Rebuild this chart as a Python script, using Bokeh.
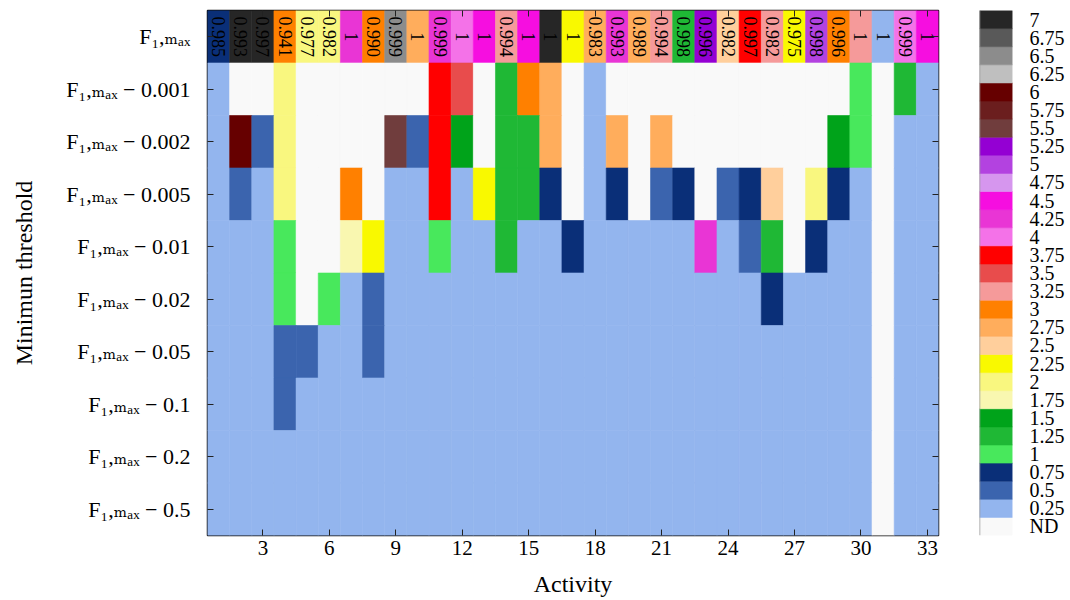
import numpy as np
from bokeh.plotting import figure
from bokeh.models import (ColumnDataSource, FactorRange, Range1d, FixedTicker,
                          LinearAxis, CategoricalAxis, CategoricalColorMapper, Span,
                          CustomLabelingPolicy)
from bokeh.layouts import row
from bokeh.embed import file_html
from bokeh.resources import INLINE
from bokeh.core.properties import value

FONT = "Liberation Serif, DejaVu Serif"

activities = list(range(1, 34))
x_ticks = [3, 6, 9, 12, 15, 18, 21, 24, 27, 30, 33]
thresholds = ["0.001", "0.002", "0.005", "0.01", "0.02", "0.05", "0.1", "0.2", "0.5"]

levels = ["ND", "0.25", "0.5", "0.75", "1", "1.25", "1.5", "1.75", "2", "2.25", "2.5",
          "2.75", "3", "3.25", "3.5", "3.75", "4", "4.25", "4.5", "4.75", "5", "5.25",
          "5.5", "5.75", "6", "6.25", "6.5", "6.75", "7"]
level_colors = ["#f9f9f9", "#93b5ee", "#3b64ae", "#0a2f78", "#48e85c", "#1fb835", "#00a31a",
                "#f9f7b0", "#f9f77f", "#f9f900", "#ffcf9c", "#ffad5c", "#ff8000", "#f59a9a",
                "#e84c4c", "#ff0000", "#f472e8", "#e935d5", "#f60ee0", "#d696ee", "#b342e0",
                "#9400d3", "#703d3d", "#6b1e1e", "#660000", "#bfbfbf", "#8c8c8c", "#595959",
                "#262626"]

# top row (F1,max): colour level and F1 value text
f1_level = [0.75, 7, 7, 3, 2, 2, 4.25, 3, 6.5, 2.75, 4.25, 4, 4.5, 3.25, 4.5, 7, 2.25,
            2.75, 4.25, 2.75, 3.25, 1.25, 5.25, 2.5, 3.75, 3.25, 2.25, 5, 3, 3.25, 0.25,
            4, 4.5]
f1_text = ["0.985", "0.993", "0.997", "0.941", "0.977", "0.982", "1", "0.990", "0.999", "1",
           "0.999", "1", "1", "0.994", "1", "1", "1", "0.983", "0.993", "0.989", "0.994",
           "0.998", "0.996", "0.982", "0.997", "0.982", "0.975", "0.998", "0.996", "1", "1",
           "0.999", "1"]

ND = "ND"
t_0001 = [0.25, ND, ND, 2, ND, ND, ND, ND, ND, ND, 3.75, 3.5, ND, 1.25, 3, 2.75, ND, 0.25,
          ND, ND, ND, ND, ND, ND, ND, ND, ND, ND, ND, 1, ND, 1.25, 0.25]
t_0002 = [0.25, 6, 0.5, 2, ND, ND, ND, ND, 5.5, 0.5, 3.75, 1.5, ND, 1.25, 1.25, 2.75, ND,
          0.25, 2.75, ND, 2.75, ND, ND, ND, ND, ND, ND, ND, 1.5, 1, ND, 0.25, 0.25]
t_0005 = [0.25, 0.5, 0.25, 2, ND, ND, 3, ND, 0.25, 0.25, 3.75, 0.25, 2.25, 1.25, 1.25, 0.75,
          ND, 0.25, 0.75, ND, 0.5, 0.75, ND, 0.5, 0.75, 2.5, ND, 2, 0.75, 0.25, ND, 0.25, 0.25]
t_001 = [0.25, 0.25, 0.25, 1, ND, ND, 1.75, 2.25, 0.25, 0.25, 1, 0.25, 0.25, 1.25, 0.25,
         0.25, 0.75, 0.25, 0.25, 0.25, 0.25, 0.25, 4.25, 0.25, 0.5, 1.25, ND, 0.75, 0.25,
         0.25, ND, 0.25, 0.25]
t_002 = [0.25, 0.25, 0.25, 1, ND, 1, 0.25, 0.5, 0.25, 0.25, 0.25, 0.25, 0.25, 0.25, 0.25,
         0.25, 0.25, 0.25, 0.25, 0.25, 0.25, 0.25, 0.25, 0.25, 0.25, 0.75, 0.25, 0.25, 0.25,
         0.25, ND, 0.25, 0.25]
t_005 = [0.25, 0.25, 0.25, 0.5, 0.5, 0.25, 0.25, 0.5, 0.25, 0.25, 0.25, 0.25, 0.25, 0.25,
         0.25, 0.25, 0.25, 0.25, 0.25, 0.25, 0.25, 0.25, 0.25, 0.25, 0.25, 0.25, 0.25, 0.25,
         0.25, 0.25, ND, 0.25, 0.25]
t_01 = [0.25, 0.25, 0.25, 0.5, 0.25, 0.25, 0.25, 0.25, 0.25, 0.25, 0.25, 0.25, 0.25, 0.25,
        0.25, 0.25, 0.25, 0.25, 0.25, 0.25, 0.25, 0.25, 0.25, 0.25, 0.25, 0.25, 0.25, 0.25,
        0.25, 0.25, ND, 0.25, 0.25]
t_02 = [0.25] * 30 + [ND, 0.25, 0.25]
t_05 = [0.25] * 30 + [ND, 0.25, 0.25]
grid = [t_0001, t_0002, t_0005, t_001, t_002, t_005, t_01, t_02, t_05]


def fmt(v):
    return v if isinstance(v, str) else "%g" % v


F = "F\u2081,\u2098\u2090\u2093"
row_labels = [F] + [F + " \u2212 " + t for t in thresholds]
y_factors = row_labels[::-1]

xs, ys, lv = [], [], []
for a, v in zip(activities, f1_level):
    xs.append(a); ys.append(row_labels[0]); lv.append(fmt(v))
for lab, vals in zip(row_labels[1:], grid):
    for a, v in zip(activities, vals):
        xs.append(a); ys.append(lab); lv.append(fmt(v))

src = ColumnDataSource(dict(x=xs, y=ys, lvl=lv))
mapper = CategoricalColorMapper(factors=levels, palette=level_colors)

p = figure(width=959, height=600, x_range=Range1d(0.5, 33.5),
           y_range=FactorRange(factors=y_factors), output_backend="svg",
           toolbar_location=None, x_axis_label="Activity", y_axis_label="Minimun threshold",
           min_border_left=207, min_border_right=21, min_border_top=10, min_border_bottom=65)
p.rect(x="x", y="y", width=1, height=1, source=src,
       fill_color={"field": "lvl", "transform": mapper},
       line_color={"field": "lvl", "transform": mapper}, line_width=0.6)
p.text(x=activities, y=[row_labels[0]] * len(activities), text=f1_text, angle=-np.pi / 2,
       text_align="center", text_baseline="middle", text_font=value(FONT),
       text_font_size="18px", text_color="black")

p.grid.grid_line_color = None
p.outline_line_color = "#111111"
p.outline_line_width = 1.5

xa = p.below[0]
xa.ticker = FixedTicker(ticks=x_ticks)
ya = p.left[0]
for ax in (xa, ya):
    ax.axis_line_color = None
    ax.major_tick_in = 6
    ax.major_tick_out = 0
    ax.minor_tick_line_color = None
    ax.major_tick_line_color = "#222222"
    ax.major_label_text_font = FONT
    ax.major_label_text_font_size = "21px"
    ax.major_label_text_color = "black"
    ax.axis_label_text_font = FONT
    ax.axis_label_text_font_size = "24px"
    ax.axis_label_text_font_style = "normal"
    ax.axis_label_text_color = "black"
ya.major_label_text_font_size = "22px"
xa.major_label_standoff = 5
xa.axis_label_standoff = 13
ya.major_label_standoff = 17
ya.axis_label_standoff = 26

no_labels = CustomLabelingPolicy(code="""
for (const i of indices) { indices.unset(i) }
return indices
""")
top = LinearAxis(ticker=FixedTicker(ticks=x_ticks), major_label_policy=no_labels,
                 major_label_text_font_size="0px",
                 major_label_standoff=0, major_tick_in=6, major_tick_out=0,
                 axis_line_color=None, minor_tick_line_color=None,
                 major_tick_line_color="#222222")
p.add_layout(top, "above")
right = CategoricalAxis(major_label_policy=no_labels, major_label_text_font_size="0px",
                        major_label_standoff=0,
                        major_tick_in=6, major_tick_out=0, axis_line_color=None,
                        major_tick_line_color="#222222")
p.add_layout(right, "right")

# legend colour bar
cb = figure(width=108, height=600, x_range=Range1d(0, 1), y_range=FactorRange(factors=levels),
            output_backend="svg", toolbar_location=None, x_axis_location=None,
            y_axis_location="right", min_border_left=20, min_border_right=10,
            min_border_top=10, min_border_bottom=65)
cb.rect(x=[0.5] * len(levels), y=levels, width=1, height=1, fill_color=level_colors,
        line_color=level_colors, line_width=0.6)
cb.grid.grid_line_color = None
cb.outline_line_color = None
cya = cb.right[0]
cya.axis_line_color = None
cya.major_tick_line_color = None
cya.minor_tick_line_color = None
cya.major_label_text_font = FONT
cya.major_label_text_font_size = "20px"
cya.major_label_text_color = "black"
cya.major_label_standoff = 11
cb.add_layout(Span(location=0, dimension="height", line_color="#999999", line_width=1.5))

layout = row(p, cb)
open("out.html", "w").write(file_html(layout, INLINE))
